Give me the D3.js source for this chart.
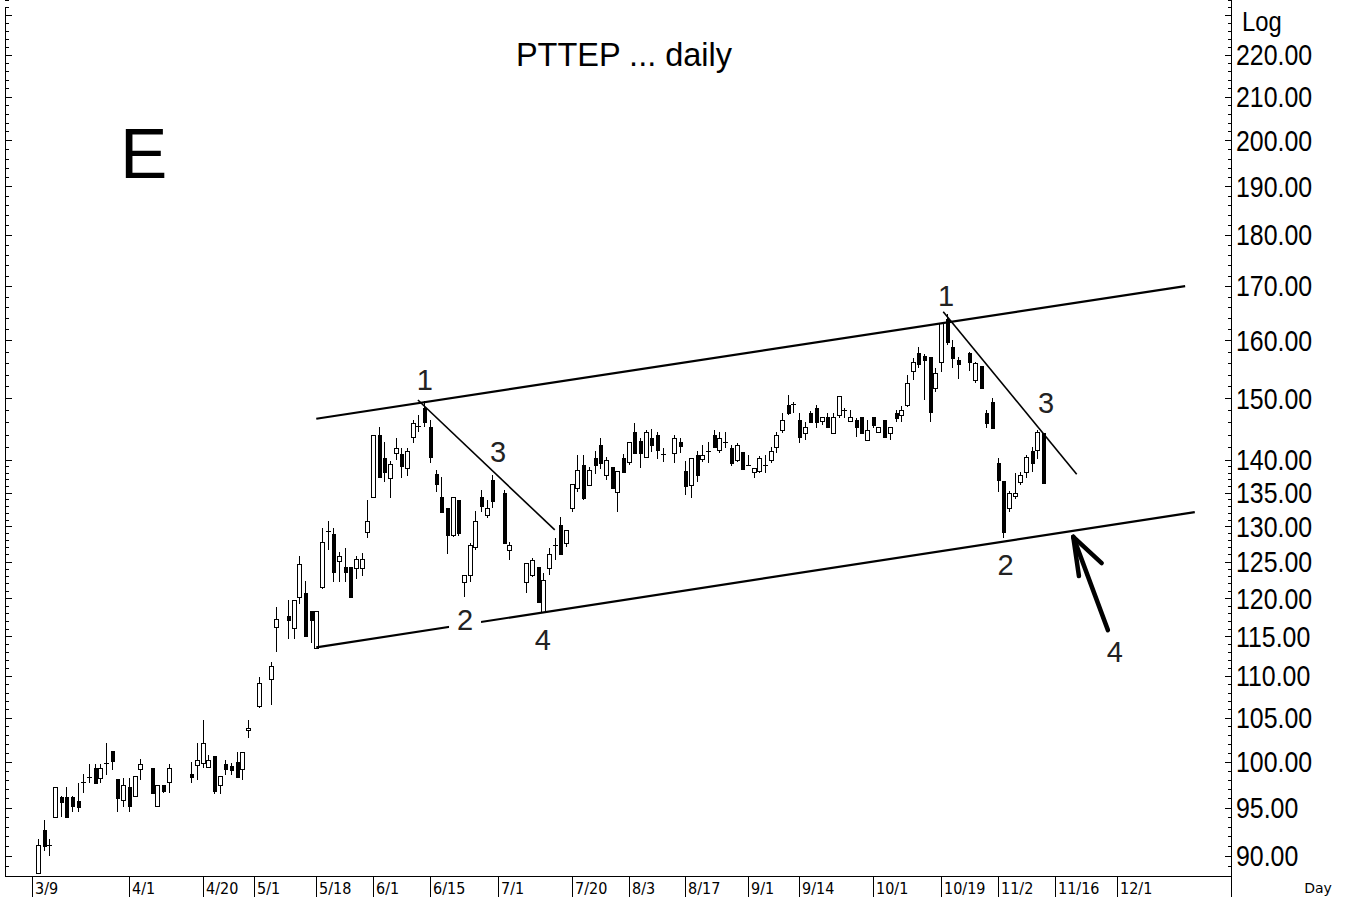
<!DOCTYPE html>
<html>
<head>
<meta charset="utf-8">
<script src="https://cdn.jsdelivr.net/npm/d3@7/dist/d3.min.js"></script>
<style>
  body { margin: 0; background: #fff; }
  svg { display: block; }
</style>
</head>
<body>
<div id="chart"></div>
<script>
// weekday index counted from 3/9 (holidays are simply missing)
const days = [
  1,2,3,4,5,6,7,8,9,10,
  11,12,13,14,15,16,17,18,19,21,
  22,23,24,28,29,30,31,32,33,34,
  35,36,37,38,40,42,43,45,46,47,
  48,49,50,51,52,53,54,55,56,57,
  58,59,60,61,62,63,64,65,66,67,
  68,69,70,71,72,73,74,75,76,77,
  78,79,80,81,83,84,87,88,89,90,
  91,92,93,94,95,96,97,98,99,100,
  101,102,103,104,105,106,107,108,109,110,
  111,113,114,115,116,117,118,119,120,121,
  122,123,124,125,126,127,128,129,130,131,
  132,133,134,135,136,137,138,139,140,141,
  142,143,144,145,146,147,148,149,150,151,
  152,153,154,155,156,157,158,159,160,161,
  162,163,165,166,167,168,169,170,171,172,
  173,174,175,176,177,178
];
const opens = [
  88.3,92.6,91.0,94.0,96.1,96.1,96.1,95.7,97.6,98.2,
  99.3,98.2,99.7,101.2,98.1,95.8,97.2,96.2,99.2,99.3,
  95.1,97.4,97.8,98.6,99.6,99.8,99.4,100.6,97.4,99.7,
  99.5,100.0,99.2,103.6,106.4,109.7,116.1,117.6,116.1,120.2,
  120.7,118.3,113.5,121.5,129.2,128.9,125.1,124.3,124.3,124.1,
  124.1,129.2,134.4,144.0,140.3,137.2,141.1,140.9,138.8,143.7,
  145.3,148.4,145.3,137.8,134.4,132.7,128.8,133.9,122.2,123.1,
  127.1,134.4,131.7,136.9,134.9,126.6,122.2,123.1,124.3,118.2,
  124.1,127.2,130.2,127.6,132.7,135.7,139.2,136.2,140.3,142.4,
  137.7,138.9,135.1,140.3,139.7,144.5,143.0,140.6,143.5,144.0,
  140.8,141.1,142.8,138.3,136.2,140.8,140.2,141.3,144.0,141.6,
  142.8,141.9,140.0,141.3,139.2,138.2,138.3,139.2,140.0,142.1,
  144.8,148.9,148.9,146.4,144.3,147.5,148.4,146.2,146.9,144.3,
  147.2,147.9,146.2,146.4,146.9,143.2,146.9,144.5,146.4,144.3,
  147.5,147.2,148.9,154.6,157.8,157.2,157.1,151.7,156.2,163.8,
  158.8,156.5,157.8,153.1,155.5,147.5,149.4,139.5,136.8,132.6,
  134.4,136.6,138.2,141.4,141.6,144.3
];
const highs = [
  91.7,93.7,91.7,97.2,96.2,97.2,96.2,97.6,98.6,99.7,
  99.7,99.7,102.1,101.2,98.1,98.2,98.2,98.4,100.3,99.3,
  97.4,97.4,99.7,100.0,102.1,104.7,100.7,100.6,98.4,100.2,
  99.8,101.1,101.1,104.7,109.9,111.8,118.8,119.8,119.8,125.8,
  122.3,118.3,118.3,129.8,130.8,129.8,126.4,126.9,124.3,125.8,
  126.2,133.9,144.0,145.3,142.8,139.9,143.5,141.9,141.9,146.4,
  147.2,149.5,146.4,138.5,137.4,132.7,134.4,133.9,123.1,127.6,
  132.3,135.4,133.9,137.7,135.4,127.8,124.8,125.5,124.3,123.4,
  126.9,128.3,131.4,129.5,136.3,140.8,140.8,138.9,141.4,143.5,
  140.5,138.9,138.3,141.0,142.9,145.9,143.5,144.8,144.9,144.5,
  141.9,144.0,143.5,139.9,140.3,141.4,142.4,142.8,144.8,144.5,
  144.5,142.4,142.7,141.3,140.8,138.8,140.6,140.8,142.1,144.5,
  147.5,150.5,149.4,147.5,146.1,147.9,148.9,146.9,147.5,147.5,
  150.4,148.4,148.0,146.7,146.9,146.4,146.9,145.3,146.4,145.3,
  148.0,148.7,154.0,156.9,158.8,157.6,157.1,155.2,163.2,164.8,
  160.1,157.1,157.9,156.2,155.5,148.0,150.0,140.3,136.8,135.2,
  138.0,138.2,140.8,142.1,144.8,144.3
];
const lows = [
  88.3,90.5,90.0,94.0,94.0,94.0,94.5,94.5,96.6,97.6,
  97.6,97.6,98.5,99.1,94.5,95.1,94.5,96.2,98.0,96.6,
  95.1,96.6,96.6,97.6,98.0,99.3,99.3,96.4,96.4,98.5,
  98.5,98.3,98.0,102.7,106.2,106.5,113.0,114.7,114.7,119.2,
  115.1,114.1,113.5,121.2,126.6,122.2,122.2,122.2,120.2,122.6,
  123.0,128.3,134.2,137.2,136.6,134.2,140.0,137.2,137.5,142.7,
  144.5,145.3,139.5,135.1,132.1,126.1,128.5,128.6,120.2,122.2,
  126.6,132.1,131.2,132.7,127.6,125.2,120.7,122.9,119.5,118.2,
  123.1,125.2,126.1,127.1,132.1,135.1,133.9,136.0,137.8,138.6,
  136.9,135.7,132.1,138.2,139.2,141.1,138.8,140.6,141.3,140.2,
  139.7,139.5,141.1,134.7,134.2,136.6,139.7,139.5,142.1,141.1,
  141.9,139.1,139.7,138.6,139.1,137.2,138.0,138.0,139.5,141.1,
  144.3,147.2,147.5,142.7,143.2,146.1,145.1,145.6,145.1,144.3,
  146.7,146.7,146.1,143.7,144.3,143.2,145.1,144.3,143.7,143.2,
  146.1,146.1,148.5,153.1,155.2,149.7,146.1,151.1,154.5,159.2,
  155.2,153.3,154.6,152.6,151.7,145.1,145.1,135.1,128.3,132.1,
  134.0,136.2,137.2,138.2,140.2,136.5
];
const closes = [
  91.1,91.0,91.1,97.2,95.6,94.0,95.1,95.1,97.7,98.3,
  97.6,99.3,99.8,100.1,96.0,97.4,95.2,98.4,99.7,96.6,
  97.4,96.7,99.3,98.3,100.2,102.1,100.2,96.7,98.4,99.2,
  99.1,98.3,101.1,103.8,109.2,111.3,117.2,117.1,119.8,124.7,
  115.1,117.1,118.3,127.8,129.3,123.6,125.8,123.6,120.2,125.4,
  125.4,130.8,144.0,137.4,138.2,139.4,141.9,139.1,141.4,145.9,
  145.4,146.1,140.5,136.2,132.1,128.8,134.4,129.1,123.1,127.3,
  130.8,133.0,132.7,133.7,127.6,127.3,124.8,125.2,119.5,122.5,
  126.1,127.3,126.1,129.5,136.3,138.5,134.2,138.5,139.2,139.5,
  140.0,135.7,138.3,138.2,142.9,141.1,141.1,144.5,142.4,141.6,
  140.9,143.5,142.1,136.0,140.3,137.7,140.8,141.4,142.1,143.5,
  142.9,139.5,142.4,138.6,139.2,138.8,140.3,139.3,141.4,144.0,
  146.4,147.5,149.0,143.7,145.3,146.1,146.1,146.9,145.3,146.9,
  150.4,148.0,146.9,145.3,144.3,144.8,145.6,145.3,143.7,145.3,
  146.6,148.0,152.6,156.1,155.8,156.5,147.7,154.3,163.2,159.7,
  156.9,155.8,156.2,156.0,151.7,145.9,145.1,136.9,129.2,134.9,
  134.9,137.7,140.5,139.5,144.5,136.5
];

// x axis labels
const dateLabels = ["3/9","4/1","4/20","5/1","5/18","6/1","6/15","7/1","7/20","8/3","8/17","9/1","9/14","10/1","10/19","11/2","11/16","12/1"];
const dateDays = [0,17,30,39,50,60,70,82,95,105,115,126,135,148,160,170,180,191];

// y axis labels
const priceLabels = [90,95,100,105,110,115,120,125,130,135,140,150,160,170,180,190,200,210,220];

// hand drawn lines [day, price]
const upperChannel = [[50, 146.6], [203, 170.0]];
const lowerChannel = [[50, 113.6], [204.7, 132.1]];
const trendA = [[67.9, 149.7], [92.0, 129.5]];
const trendB = [[160.4, 165.2], [183.9, 137.8]];
const arrowShaft = [[189.4, 115.8], [183.3, 128.5]];
const arrowHeads = [[184.3, 123.0], [188.3, 124.8]];
const waveLabels = ["1", "3", "2", "4", "1", "3", "2", "4"];
const waveDays = [69.1, 82, 76.2, 89.9, 160.9, 178.5, 171.4, 190.6];
const wavePrices = [153.1, 141.3, 117.1, 114.5, 168.1, 149.2, 124.5, 113.0];

const width = 1357, height = 897;
const axisX = 1231, leftX = 5, axisY = 876;

const svg = d3.select("#chart").append("svg")
  .attr("width", width)
  .attr("height", height)
  .style("font-family", "'Liberation Sans', Arial, sans-serif");

const x = d3.scaleLinear().domain([0, 191]).range([32.3, 1117]);
const y = d3.scaleLog().domain([90, 220]).range([856, 55]);

// frame
const frame = svg.append("g").attr("stroke", "#000").attr("shape-rendering", "crispEdges");
frame.append("line").attr("x1", leftX + 0.5).attr("x2", leftX + 0.5).attr("y1", 8).attr("y2", axisY);
frame.append("line").attr("x1", axisX + 0.5).attr("x2", axisX + 0.5).attr("y1", 0).attr("y2", height);
frame.append("line").attr("x1", leftX).attr("x2", axisX).attr("y1", axisY + 0.5).attr("y2", axisY + 0.5);

// price ticks, major and minor
const majors = priceLabels.concat([230]);
const minors = [];
for (let v = 88; v < 140; v++) if (!majors.includes(v)) minors.push(v);
for (let v = 142; v < 236; v += 2) if (!majors.includes(v)) minors.push(v);

const tickG = svg.append("g").attr("stroke", "#000").attr("shape-rendering", "crispEdges");
[[majors, 6], [minors, 3]].forEach(([vals, len]) => {
  tickG.selectAll(null).data(vals).enter().append("line")
    .attr("x1", axisX - len).attr("x2", axisX)
    .attr("y1", d => Math.round(y(d)) + 0.5).attr("y2", d => Math.round(y(d)) + 0.5);
  tickG.selectAll(null).data(vals).enter().append("line")
    .attr("x1", leftX).attr("x2", leftX + len + 1)
    .attr("y1", d => Math.round(y(d)) + 0.5).attr("y2", d => Math.round(y(d)) + 0.5);
});

// price labels, narrow
const labelG = svg.append("g").attr("transform", `translate(${axisX + 5},0) scale(0.83,1)`);
labelG.selectAll("text").data(priceLabels).enter().append("text")
  .attr("x", 0)
  .attr("y", d => y(d))
  .attr("dominant-baseline", "central")
  .attr("font-size", 30)
  .attr("fill", "#000")
  .text(d => d.toFixed(2));

svg.append("text")
  .attr("transform", `translate(${axisX + 11},21) scale(0.85,1)`)
  .attr("dominant-baseline", "central")
  .attr("font-size", 28)
  .text("Log");

// date axis
const dateG = svg.append("g");
dateG.selectAll("line").data(dateDays).enter().append("line")
  .attr("x1", d => Math.round(x(d)) + 0.5).attr("x2", d => Math.round(x(d)) + 0.5)
  .attr("y1", axisY).attr("y2", height)
  .attr("stroke", "#000")
  .attr("shape-rendering", "crispEdges");
dateG.selectAll("text").data(dateLabels).enter().append("text")
  .attr("transform", (d, i) => `translate(${Math.round(x(dateDays[i])) + 3},894) scale(0.9,1)`)
  .attr("font-family", "'DejaVu Sans', sans-serif")
  .attr("font-size", 16)
  .text(d => d);
svg.append("text")
  .attr("x", 1318).attr("y", 893)
  .attr("text-anchor", "middle")
  .attr("font-family", "'DejaVu Sans', sans-serif")
  .attr("font-size", 14)
  .text("Day");

// title and big letter
svg.append("text")
  .attr("x", 624).attr("y", 66)
  .attr("text-anchor", "middle")
  .attr("font-size", 32.5)
  .text("PTTEP ... daily");
svg.append("text")
  .attr("x", 120).attr("y", 178)
  .attr("font-size", 71)
  .text("E");

// candles
const candles = days.map((d, i) => ({ d, o: opens[i], h: highs[i], l: lows[i], c: closes[i] }));
const cg = svg.append("g").attr("shape-rendering", "crispEdges");

cg.selectAll("line.wick").data(candles).enter().append("line")
  .attr("class", "wick")
  .attr("x1", d => Math.round(x(d.d)) + 0.5)
  .attr("x2", d => Math.round(x(d.d)) + 0.5)
  .attr("y1", d => y(d.h))
  .attr("y2", d => y(d.l))
  .attr("stroke", "#000");

candles.forEach(k => {
  const cx = Math.round(x(k.d));
  const top = y(Math.max(k.o, k.c)), bot = y(Math.min(k.o, k.c));
  if (bot - top < 1.5) {
    cg.append("line")
      .attr("x1", cx - 2).attr("x2", cx + 3)
      .attr("y1", Math.round(top) + 0.5).attr("y2", Math.round(top) + 0.5)
      .attr("stroke", "#000").attr("stroke-width", 1.5);
  } else if (k.c >= k.o) {
    cg.append("rect")
      .attr("x", cx - 1.5).attr("width", 4)
      .attr("y", Math.round(top) + 0.5).attr("height", Math.round(bot - top))
      .attr("fill", "#fff").attr("stroke", "#000");
  } else {
    cg.append("rect")
      .attr("x", cx - 1.5).attr("width", 4.5)
      .attr("y", Math.round(top)).attr("height", Math.round(bot - top) + 1)
      .attr("fill", "#000");
  }
});

// channel and trend lines
const line = d3.line().x(d => x(d[0])).y(d => y(d[1]));
const lg = svg.append("g").attr("fill", "none").attr("stroke", "#000");
lg.append("path").attr("d", line(upperChannel)).attr("stroke-width", 2.2);
lg.append("path").attr("d", line(lowerChannel)).attr("stroke-width", 2.2);
lg.append("path").attr("d", line(trendA)).attr("stroke-width", 1.6);
lg.append("path").attr("d", line(trendB)).attr("stroke-width", 1.6);
lg.append("path").attr("d", line(arrowShaft))
  .attr("stroke-width", 4.5).attr("stroke-linecap", "round");
arrowHeads.forEach(h => {
  lg.append("path").attr("d", line([arrowShaft[1], h]))
    .attr("stroke-width", 4.5).attr("stroke-linecap", "round");
});

// wave count labels
const wg = svg.append("g");
waveLabels.forEach((t, i) => {
  const px = x(waveDays[i]), py = y(wavePrices[i]);
  if (i === 2) {
    wg.append("rect")
      .attr("x", px - 16).attr("y", py - 15)
      .attr("width", 32).attr("height", 28)
      .attr("fill", "#fff");
  }
  wg.append("text")
    .attr("x", px).attr("y", py)
    .attr("text-anchor", "middle")
    .attr("dominant-baseline", "central")
    .attr("font-size", 29)
    .attr("fill", "#222")
    .text(t);
});
</script>
</body>
</html>
